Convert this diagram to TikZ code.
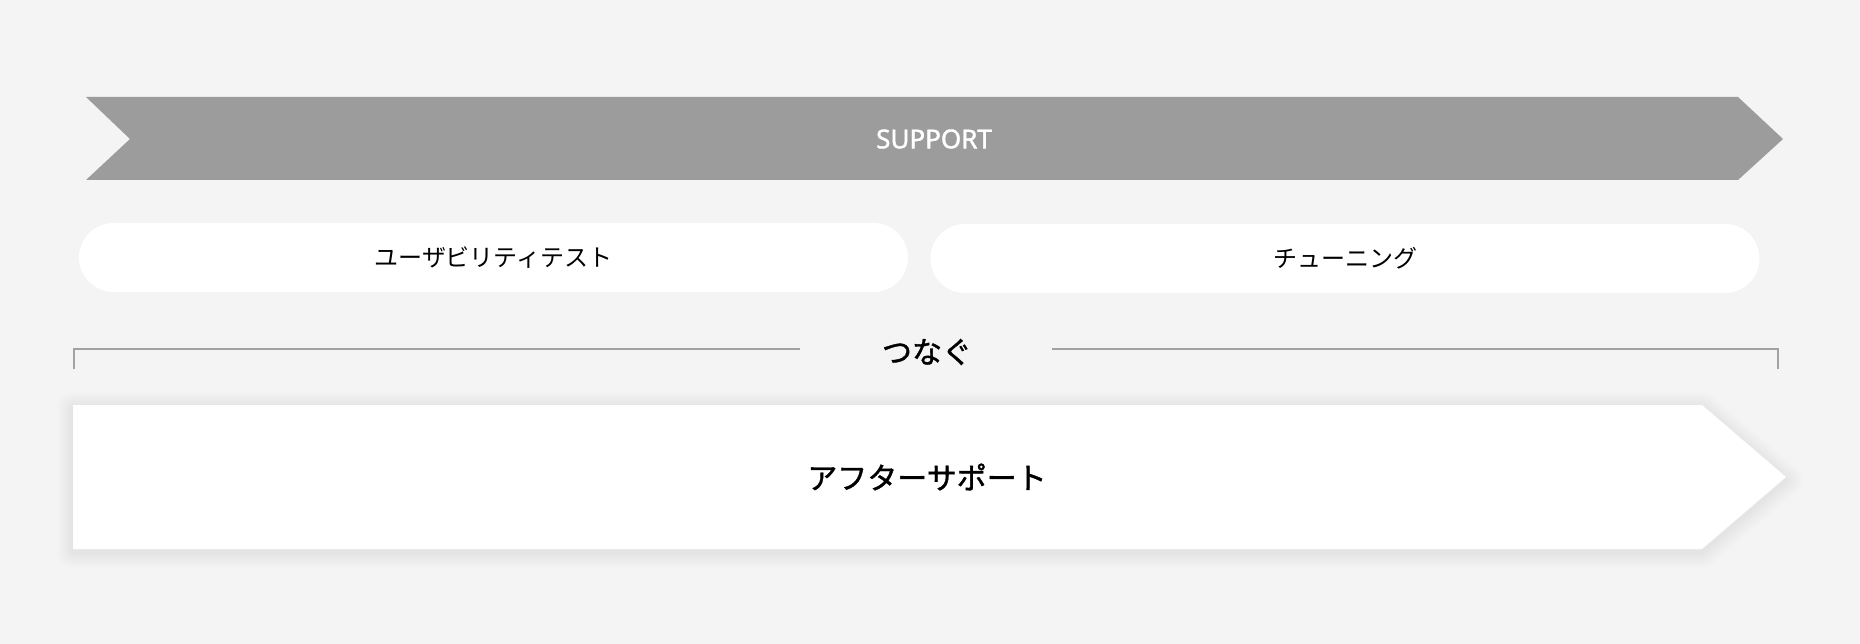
\documentclass[tikz,border=0pt]{standalone}
\usepackage{fontspec}
\setmainfont{Noto Sans CJK JP}
\newfontfamily\jpmed[FakeBold=1.3]{Noto Sans CJK JP}
\newfontfamily\latinfont[FakeBold=1.6]{Noto Sans}
\usepackage{xcolor}
\definecolor{bggray}{HTML}{F4F4F4}
\definecolor{bannergray}{HTML}{9C9C9C}
\definecolor{rulegray}{HTML}{A2A2A2}

\begin{document}
\begin{tikzpicture}[x=1pt,y=-1pt]
    \tikzstyle{banner}=[fill=bannergray]
    \tikzstyle{pill}=[fill=white, rounded corners=34.5pt, minimum width=829pt, minimum height=69pt, inner sep=0pt, font=\fontsize{24}{28}\selectfont]
    \tikzstyle{bracket}=[draw=rulegray, line width=2.5pt]
    \tikzstyle{bigtext}=[inner sep=0pt, font=\jpmed\fontsize{30}{34}\selectfont]
    \tikzstyle{soft shadow}=[draw=black, opacity=0.0035, line join=round]

    % page and background
    \fill[bggray] (0,0) rectangle (1860,644);
    \useasboundingbox (0,0) rectangle (1860,644);

    % SUPPORT ribbon
    \fill[banner] (86,97) -- (1738,97) -- (1783,139) -- (1738,180) -- (86,180) -- (130,139) -- cycle;
    \node[text=white, inner sep=0pt, font=\latinfont\fontsize{26}{30}\selectfont] (support) at (934,139) {SUPPORT};

    % the two tasks
    \node[pill] (usab) at (493.5,257.5) {ユーザビリティテスト};
    \node[pill] (tune) at (1345,258.5) {チューニング};

    % bracket with label
    \node[bigtext] (join) at (927,352) {つなぐ};
    \coordinate (L-foot) at (74,369);
    \coordinate (L-end) at (800,349);
    \coordinate (R-start) at (1052,349);
    \coordinate (R-foot) at (1778,369);
    \draw[bracket] (L-foot) |- (L-end);
    \draw[bracket] (R-start) -| (R-foot);

    % after support arrow, soft shadow first
    \foreach \w in {2,4,...,32}{
        \draw[soft shadow, line width=\w pt] (73,408) -- (1702,408) -- (1786,480) -- (1702,552) -- (73,552) -- cycle;
    }
    \fill[white] (73,405) -- (1702,405) -- (1786,477) -- (1702,549) -- (73,549) -- cycle;
    \node[bigtext] (after) at (927,477) {アフターサポート};
\end{tikzpicture}
\end{document}
